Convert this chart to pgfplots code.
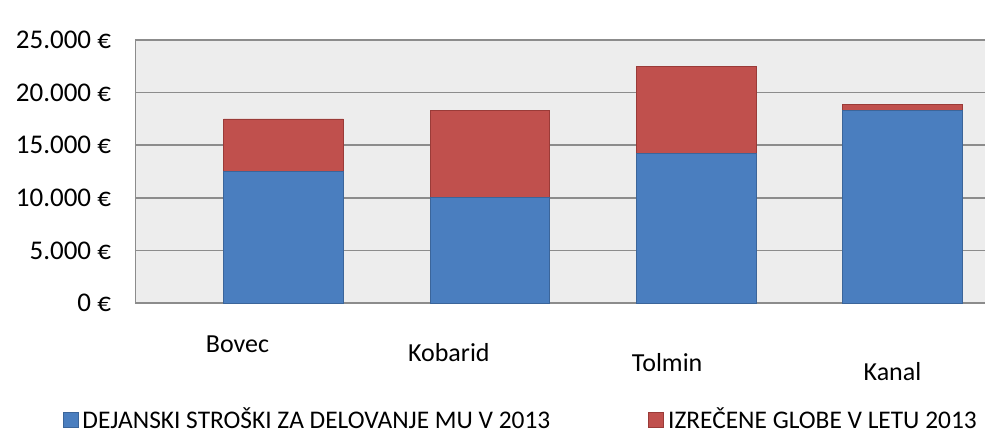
\documentclass[border=0pt]{standalone}
\usepackage{pgfplots}
\pgfplotsset{compat=1.18}
\usepackage{fontspec}
\setmainfont{Carlito}
\definecolor{bmain}{HTML}{4A7EBF}
\definecolor{bdark}{HTML}{3B659A}
\definecolor{rmain}{HTML}{C0504D}
\definecolor{rdark}{HTML}{9A3B38}
\definecolor{wall}{HTML}{EDEDED}
\definecolor{gridc}{HTML}{8C8C8C}
\newcommand{\lab}[3]{\raisebox{-#1}[0pt][0pt]{\hspace*{-#2}#3}}
\begin{document}
\begin{tikzpicture}
\begin{axis}[
  scale only axis,
  width=425pt, height=131.5pt,
  ybar stacked,
  bar width=0.58,
  xmin=-0.72, xmax=3.4,
  ymin=0, ymax=25000,
  scaled y ticks=false,
  xtick={0,1,2,3},
  xticklabels={{\lab{11.2pt}{46pt}{Bovec}},{\lab{15.7pt}{41pt}{Kobarid}},{\lab{20.7pt}{29pt}{Tolmin}},{\lab{25.2pt}{10pt}{Kanal}}},
  ytick={0,5000,10000,15000,20000,25000},
  yticklabels={0 €,5.000 €,10.000 €,15.000 €,20.000 €,25.000 €},
  tick style={draw=none},
  ymajorgrids,
  grid style={gridc, line width=0.8pt},
  axis background/.style={fill=wall},
  axis line style={draw=gridc},
  axis x line*=bottom,
  axis y line*=left,
  yticklabel style={font=\fontsize{13.5}{16}\selectfont, xshift=-8.5pt},
  xticklabel style={font=\fontsize{13}{16}\selectfont, yshift=-10pt},
  legend columns=2,
  legend style={draw=none, fill=none, at={(axis description cs:0.455,-0.445)}, anchor=center,
    font=\fontsize{12.7}{15}\selectfont,
    /tikz/every even column/.append style={column sep=47pt}},
  legend cell align=left,
]
\addplot[draw=bdark, fill=bmain,
  legend image code/.code={\draw[draw=bdark, fill=bmain] (0pt,-3.7pt) rectangle (7.5pt,3.7pt);}]
  coordinates {(0,12500) (1,10000) (2,14200) (3,18300)};
\addlegendentry{DEJANSKI STROŠKI ZA DELOVANJE MU V 2013}
\addplot[draw=rdark, fill=rmain,
  legend image code/.code={\draw[draw=rdark, fill=rmain] (0pt,-3.7pt) rectangle (7.5pt,3.7pt);}]
  coordinates {(0,5000) (1,8300) (2,8300) (3,600)};
\addlegendentry{IZREČENE GLOBE V LETU 2013}
\end{axis}
\path (current axis.south west) ++(-67.5pt,-71pt) rectangle ([shift={(5pt,20pt)}]current axis.north east);
\end{tikzpicture}
\end{document}
